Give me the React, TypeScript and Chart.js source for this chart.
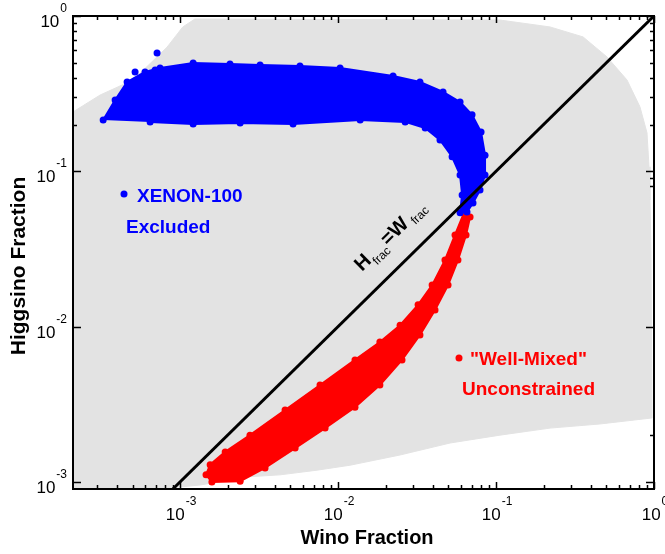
import React, { useEffect, useRef } from 'react';
import { Chart, registerables } from 'chart.js';

Chart.register(...registerables);

// ---- axis ranges (log scales) ----
const xRange = [2.1e-4, 1];
const yRange = [9.0e-4, 1];

// ---- tick values ----
const majorTicks = [1e-3, 1e-2, 1e-1, 1];
const majorExponents = ['-3', '-2', '-1', '0'];
const xMinorTicks = [
  3e-4, 4e-4, 5e-4, 6e-4, 7e-4, 8e-4, 9e-4,
  2e-3, 3e-3, 4e-3, 5e-3, 6e-3, 7e-3, 8e-3, 9e-3,
  2e-2, 3e-2, 4e-2, 5e-2, 6e-2, 7e-2, 8e-2, 9e-2,
  0.2, 0.3, 0.4, 0.5, 0.6, 0.7, 0.8, 0.9,
];
const yMinorLeft = [0.2, 0.3, 0.4, 0.5, 0.6, 0.7, 0.8, 0.9];
const yMinorRight = [0.2, 0.3, 0.4, 0.5, 0.6, 0.7, 0.8, 0.9, 0.09, 0.08, 0.002];

// ---- allowed parameter region (grey) outline ----
const grayW = [2.1e-4, 2.1e-4, 3.12e-4, 5.04e-4, 8.27e-4, 1.04e-3, 1.24e-3, 0.106, 0.22, 0.356, 0.504, 0.675, 0.815, 0.903, 0.93, 0.943, 0.957, 0.971, 0.455, 0.22, 0.106, 0.0512, 0.0247, 0.0119, 7.37e-3, 4.29e-3, 2.77e-3, 1.34e-3, 7.47e-4];
const grayH = [9.0e-4, 0.241, 0.31, 0.387, 0.63, 0.85, 0.956, 0.942, 0.85, 0.733, 0.545, 0.387, 0.26, 0.177, 0.107, 0.0653, 0.0311, 2.58e-3, 2.36e-3, 2.22e-3, 2.0e-3, 1.78e-3, 1.49e-3, 1.28e-3, 1.19e-3, 1.11e-3, 1.08e-3, 9.55e-4, 9.0e-4];

// ---- XENON-100 excluded points (outline of the dense cloud) ----
const xenonW = [3.26e-4, 3.88e-4, 4.62e-4, 6.0e-4, 7.47e-4, 1.21e-3, 2.07e-3, 3.21e-3, 5.74e-3, 0.0103, 0.0223, 0.033, 0.0462, 0.0592, 0.0705, 0.0804, 0.0852, 0.0852, 0.0792, 0.0715, 0.0655, 0.0592, 0.061, 0.0592, 0.0527, 0.0442, 0.0356, 0.0266, 0.0138, 5.19e-3, 2.4e-3, 1.21e-3, 6.46e-4];
const xenonH = [0.214, 0.288, 0.376, 0.436, 0.463, 0.498, 0.491, 0.483, 0.476, 0.463, 0.411, 0.376, 0.324, 0.279, 0.231, 0.179, 0.127, 0.0947, 0.0758, 0.0625, 0.0547, 0.054, 0.0704, 0.0947, 0.124, 0.159, 0.19, 0.208, 0.214, 0.202, 0.205, 0.202, 0.208];
const xenonOutlierW = [7.15e-4, 6.95e-4, 5.19e-4];
const xenonOutlierH = [0.578, 0.449, 0.436];

// ---- "Well-Mixed" unconstrained points (outline of the dense band) ----
const wellMixedW = [0.0627, 0.055, 0.0475, 0.0394, 0.0321, 0.0247, 0.0184, 0.0128, 7.69e-3, 4.62e-3, 2.77e-3, 1.93e-3, 1.55e-3, 1.46e-3, 1.59e-3, 2.4e-3, 3.45e-3, 5.35e-3, 8.28e-3, 0.0128, 0.0184, 0.0254, 0.033, 0.0411, 0.0497, 0.0574, 0.0646, 0.0685];
const wellMixedH = [0.0539, 0.0389, 0.0268, 0.0185, 0.0138, 0.0102, 7.96e-3, 6.1e-3, 4.21e-3, 2.9e-3, 2.0e-3, 1.56e-3, 1.29e-3, 1.11e-3, 1.0e-3, 1.01e-3, 1.23e-3, 1.65e-3, 2.22e-3, 3.03e-3, 4.21e-3, 6.1e-3, 8.83e-3, 0.0128, 0.0185, 0.0268, 0.0389, 0.0508];

// ---- H_frac = W_frac diagonal ----
const diagonalW = [9.0e-4, 1];
const diagonalH = [9.0e-4, 1];

const FONT = '"Liberation Sans", Arial, Helvetica, sans-serif';

const zip = (xs: number[], ys: number[]) => xs.map((x, i) => ({ x, y: ys[i] }));

const decorPlugin = {
  id: 'decor',
  afterDraw(chart: any) {
    const ctx: CanvasRenderingContext2D = chart.ctx;
    const { left, right, top, bottom } = chart.chartArea;
    const xs = chart.scales.x;
    const ys = chart.scales.y;
    ctx.save();
    ctx.fillStyle = '#000';
    ctx.strokeStyle = '#000';

    // frame
    ctx.lineWidth = 2;
    ctx.strokeRect(left, top, right - left, bottom - top);

    // ticks (inward)
    ctx.lineWidth = 1.5;
    ctx.beginPath();
    majorTicks.forEach((v) => {
      const px = Math.round(xs.getPixelForValue(v)) + 0.5;
      ctx.moveTo(px, bottom); ctx.lineTo(px, bottom - 7);
      ctx.moveTo(px, top); ctx.lineTo(px, top + 7);
      const py = Math.round(ys.getPixelForValue(v)) + 0.5;
      ctx.moveTo(left, py); ctx.lineTo(left + 8, py);
      ctx.moveTo(right, py); ctx.lineTo(right - 8, py);
    });
    xMinorTicks.forEach((v) => {
      const px = Math.round(xs.getPixelForValue(v)) + 0.5;
      ctx.moveTo(px, bottom); ctx.lineTo(px, bottom - 4);
      ctx.moveTo(px, top); ctx.lineTo(px, top + 4);
    });
    yMinorLeft.forEach((v) => {
      const py = Math.round(ys.getPixelForValue(v)) + 0.5;
      ctx.moveTo(left, py); ctx.lineTo(left + 4, py);
    });
    yMinorRight.forEach((v) => {
      const py = Math.round(ys.getPixelForValue(v)) + 0.5;
      ctx.moveTo(right, py); ctx.lineTo(right - 4, py);
    });
    ctx.stroke();

    // tick labels "10^n"
    const baseFont = `17px ${FONT}`;
    const expFont = `12px ${FONT}`;
    ctx.textAlign = 'left';
    ctx.textBaseline = 'alphabetic';
    majorTicks.forEach((v, i) => {
      const e = majorExponents[i];
      ctx.font = baseFont;
      const w1 = ctx.measureText('10').width;
      ctx.font = expFont;
      const w2 = ctx.measureText(e).width;
      // x axis
      const px = xs.getPixelForValue(v);
      const start = px - (w1 + 1 + w2) / 2 + 1;
      ctx.font = baseFont;
      ctx.fillText('10', start, 520);
      ctx.font = expFont;
      ctx.fillText(e, start + w1 + 1, 505);
      // y axis
      const py = ys.getPixelForValue(v);
      const rightEdge = 67;
      ctx.font = expFont;
      ctx.fillText(e, rightEdge - w2, py - 4);
      ctx.font = baseFont;
      ctx.fillText('10', rightEdge - w2 - 1 - w1, py + 11);
    });

    // axis titles
    ctx.font = `bold 20px ${FONT}`;
    ctx.textAlign = 'center';
    ctx.fillText('Wino Fraction', 367, 544);
    ctx.save();
    ctx.translate(25, 266);
    ctx.rotate(-Math.PI / 2);
    ctx.font = `bold 21px ${FONT}`;
    ctx.fillText('Higgsino Fraction', 0, 0);
    ctx.restore();

    // legends
    ctx.textAlign = 'left';
    ctx.font = `bold 19px ${FONT}`;
    ctx.fillStyle = '#0000ff';
    ctx.beginPath(); ctx.arc(124, 194, 3.5, 0, Math.PI * 2); ctx.fill();
    ctx.fillText('XENON-100', 137, 202);
    ctx.fillText('Excluded', 126, 233);
    ctx.fillStyle = '#ff0000';
    ctx.beginPath(); ctx.arc(459, 358, 3.5, 0, Math.PI * 2); ctx.fill();
    ctx.fillText('"Well-Mixed"', 470, 365);
    ctx.fillText('Unconstrained', 462, 395);

    // diagonal annotation
    const p1x = xs.getPixelForValue(diagonalW[0]);
    const p1y = ys.getPixelForValue(diagonalH[0]);
    const p2x = xs.getPixelForValue(diagonalW[1]);
    const p2y = ys.getPixelForValue(diagonalH[1]);
    const ang = Math.atan2(p2y - p1y, p2x - p1x);
    ctx.save();
    ctx.fillStyle = '#000';
    ctx.translate(362, 272);
    ctx.rotate(ang);
    let cx = 0;
    ctx.font = `bold 20px ${FONT}`;
    ctx.fillText('H', cx, 0);
    cx += ctx.measureText('H').width + 1;
    ctx.font = `12px ${FONT}`;
    ctx.fillText('frac', cx, 6);
    cx += ctx.measureText('frac').width + 1;
    ctx.font = `bold 20px ${FONT}`;
    ctx.fillText('=W', cx, 0);
    cx += ctx.measureText('=W').width + 4;
    ctx.font = `12px ${FONT}`;
    ctx.fillText('frac', cx, 4);
    ctx.restore();

    ctx.restore();
  },
};

export default function App() {
  const ref = useRef<HTMLCanvasElement | null>(null);
  useEffect(() => {
    if (!ref.current) return;
    const chart = new Chart(ref.current, {
      type: 'scatter',
      data: {
        datasets: [
          {
            type: 'line',
            label: 'H=W',
            data: zip(diagonalW, diagonalH),
            borderColor: '#000',
            borderWidth: 3,
            pointRadius: 0,
            fill: false,
            order: 0,
          } as any,
          {
            type: 'scatter',
            label: 'XENON-100 outliers',
            data: zip(xenonOutlierW, xenonOutlierH),
            backgroundColor: '#0000ff',
            borderWidth: 0,
            pointRadius: 3.5,
            order: 1,
          } as any,
          {
            type: 'line',
            label: 'XENON-100 Excluded',
            data: zip(xenonW, xenonH),
            borderColor: '#0000ff',
            backgroundColor: '#0000ff',
            borderWidth: 2,
            pointRadius: 3.5,
            pointBackgroundColor: '#0000ff',
            pointBorderWidth: 0,
            fill: 'shape',
            tension: 0,
            order: 2,
          } as any,
          {
            type: 'line',
            label: 'Well-Mixed Unconstrained',
            data: zip(wellMixedW, wellMixedH),
            borderColor: '#ff0000',
            backgroundColor: '#ff0000',
            borderWidth: 2,
            pointRadius: 3.5,
            pointBackgroundColor: '#ff0000',
            pointBorderWidth: 0,
            fill: 'shape',
            tension: 0,
            order: 3,
          } as any,
          {
            type: 'line',
            label: 'Allowed region',
            data: zip(grayW, grayH),
            borderColor: '#e3e3e3',
            backgroundColor: '#e3e3e3',
            borderWidth: 1,
            pointRadius: 0,
            fill: 'shape',
            tension: 0,
            order: 4,
          } as any,
        ],
      },
      options: {
        responsive: false,
        animation: false,
        devicePixelRatio: 1,
        layout: { padding: { left: 73, right: 11, top: 16, bottom: 65 } },
        scales: {
          x: { type: 'logarithmic', min: xRange[0], max: xRange[1], display: false },
          y: { type: 'logarithmic', min: yRange[0], max: yRange[1], display: false },
        },
        plugins: {
          legend: { display: false },
          tooltip: { enabled: false },
        },
        events: [],
      },
      plugins: [decorPlugin],
    });
    return () => chart.destroy();
  }, []);

  return (
    <div style={{ position: 'absolute', left: 0, top: 0, width: 665, height: 554, background: '#fff' }}>
      <canvas ref={ref} width={665} height={554} style={{ display: 'block' }} />
    </div>
  );
}
